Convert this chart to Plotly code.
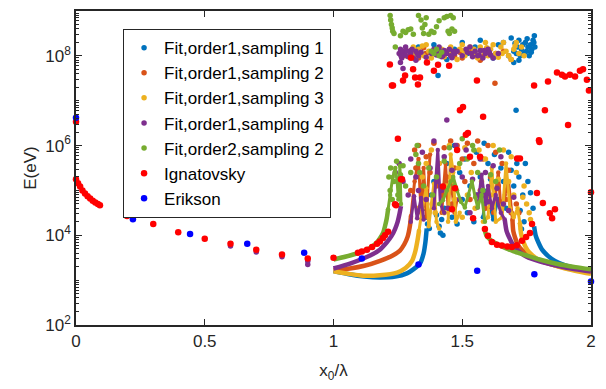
import plotly.graph_objects as go

# ---------------- colours / names ----------------
C_BLUE = "#0072BD"; C_ORANGE = "#D95319"; C_YELLOW = "#EDB120"
C_PURPLE = "#7E2F8E"; C_GREEN = "#77AC30"; C_RED = "#FF0000"; C_ERI = "#0000FF"
names = ["Fit,order1,sampling 1", "Fit,order1,sampling 2", "Fit,order1,sampling 3",
         "Fit,order1,sampling 4", "Fit,order2,sampling 2", "Ignatovsky", "Erikson"]

# ---------------- data (x0/lambda, log10 E[eV]) ----------------
# Erikson
eri_x = [0.0, 0.221, 0.443, 0.665, 0.886, 1.11, 1.33, 1.558, 1.78, 2.0]
eri_L = [6.62, 4.36, 4.03, 3.81, 3.61, 3.48, 3.35, 3.21, 3.13, 2.97]

# Ignatovsky
ign_x = [0.0, 0.0, 0.008, 0.016, 0.025, 0.035, 0.045, 0.055, 0.065, 0.075, 0.085, 0.093,
         0.198, 0.3, 0.397, 0.5, 0.6, 0.7, 0.8, 0.9, 1.0,
         1.095, 1.11, 1.13, 1.15, 1.169, 1.18, 1.192, 1.2, 1.212,
         1.239, 1.262, 1.243,
         1.219, 1.227, 1.231, 1.25, 1.266, 1.27, 1.278, 1.301, 1.309, 1.317, 1.328, 1.336,
         1.363, 1.39, 1.406, 1.425, 1.449, 1.48, 1.491, 1.503, 1.514, 1.522, 1.53,
         1.557, 1.569, 1.581, 1.46, 1.472, 1.542, 1.588,
         1.6, 1.615, 1.635, 1.654, 1.675, 1.693, 1.712, 1.732, 1.748, 1.763, 1.771,
         1.713, 1.724, 1.79, 1.813, 1.84, 1.86, 1.849, 1.8,
         1.779, 1.798, 1.821, 1.833, 1.868, 1.887, 1.899, 1.911, 1.918, 1.938,
         1.957, 1.969, 1.984, 1.992, 2.0]
ign_L = [6.53, 5.25, 5.16, 5.09, 5.0, 4.93, 4.87, 4.82, 4.77, 4.73, 4.7, 4.67,
         4.43, 4.25, 4.07, 3.92, 3.81, 3.68, 3.57, 3.48, 3.5,
         3.61, 3.64, 3.68, 3.74, 3.81, 3.86, 3.94, 4.0, 4.08,
         4.69, 5.25, 4.67,
         7.81, 7.34, 7.34, 6.15, 5.25, 7.45, 7.56, 7.96, 7.7, 7.52, 7.36, 7.52,
         7.85, 7.67, 7.8, 5.09, 7.78, 5.9, 6.79, 6.86, 6.24, 6.28, 5.75,
         7.45, 5.75, 6.64, 4.58, 5.05, 4.38, 4.14,
         3.99, 3.85, 3.79, 3.77, 3.75, 3.74, 3.78, 3.88, 3.96, 4.05, 4.25,
         5.71, 5.71, 4.94, 4.72, 4.49, 4.58, 4.38, 6.08,
         7.34, 6.12, 6.79, 7.43, 7.63, 7.58, 7.54, 6.46, 7.58, 7.54,
         7.67, 7.7, 7.47, 7.23, 4.96]

# ---- Fit, order1, sampling 1 (blue)
s1_arcL_x = [1.0, 1.06, 1.12, 1.18, 1.24, 1.285, 1.31, 1.336, 1.35, 1.357, 1.362]
s1_arcL_L = [3.2, 3.13, 3.08, 3.06, 3.08, 3.15, 3.24, 3.37, 3.6, 3.85, 4.15]
s1_arcR_x = [1.779, 1.785, 1.795, 1.81, 1.835, 1.86, 1.9, 1.94, 2.0]
s1_arcR_L = [4.2, 4.0, 3.85, 3.68, 3.53, 3.43, 3.33, 3.27, 3.2]
s1_strk_x = [1.58, 1.595, 1.61, 1.62, 1.635]
s1_strk_L = [4.4, 5.0, 4.6, 4.35, 4.7]
s1_dot_x = [1.355, 1.36, 1.365, 1.37, 1.372, 1.38, 1.39, 1.40, 1.41, 1.415, 1.42, 1.425, 1.43,
            1.44, 1.45, 1.46, 1.47, 1.48, 1.49, 1.50, 1.51, 1.52, 1.53, 1.545, 1.555, 1.56,
            1.57, 1.585, 1.60, 1.61, 1.625, 1.64, 1.65, 1.66, 1.67, 1.68, 1.69, 1.70, 1.712,
            1.72, 1.725, 1.735, 1.745, 1.755, 1.765, 1.775, 1.73, 1.74, 1.709]
s1_dot_L = [4.6, 4.4, 4.25, 4.5, 4.15, 4.9, 5.2, 4.45, 4.2, 4.05, 4.35, 4.0, 4.6,
            5.6, 5.0, 4.4, 6.0, 4.25, 5.4, 4.8, 5.7, 4.5, 5.1, 4.3, 5.85, 4.9,
            5.3, 6.05, 5.6, 5.25, 5.8, 4.8, 5.5, 5.2, 4.6, 5.85, 5.45, 5.1, 5.6,
            5.3, 4.55, 4.9, 5.6, 5.2, 4.95, 4.6, 4.14, 4.3, 6.79]
s1_hi_x = [1.33, 1.36, 1.39, 1.41, 1.44, 1.47, 1.50, 1.52, 1.55, 1.57, 1.60, 1.62, 1.64,
           1.66, 1.68, 1.69, 1.70, 1.71, 1.72, 1.725, 1.73, 1.74, 1.745, 1.75, 1.755,
           1.76, 1.765, 1.77, 1.775, 1.78, 1.782, 1.70, 1.72, 1.406,
           1.735, 1.752, 1.768, 1.778, 1.715, 1.705]
s1_hi_L = [8.2, 8.05, 8.25, 8.1, 7.92, 8.15, 8.3, 8.05, 8.2, 8.35, 8.1, 7.95, 8.25,
           8.3, 8.0, 8.4, 8.1, 8.05, 8.35, 8.0, 8.15, 8.05, 8.3, 8.1, 8.2,
           8.0, 8.25, 8.15, 8.35, 8.45, 8.2, 7.85, 7.9, 7.56,
           8.25, 8.38, 8.08, 8.3, 8.2, 8.28]

# ---- Fit, order1, sampling 2 (orange)
s2_arcL_x = [1.0, 1.064, 1.12, 1.181, 1.23, 1.258, 1.275, 1.288, 1.297, 1.301]
s2_arcL_L = [3.22, 3.26, 3.32, 3.43, 3.55, 3.66, 3.8, 3.97, 4.22, 4.43]
s2_arcR_x = [1.695, 1.698, 1.705, 1.715, 1.73, 1.76, 1.8, 1.86, 1.93, 2.0]
s2_arcR_L = [4.35, 4.1, 3.95, 3.8, 3.68, 3.55, 3.44, 3.33, 3.24, 3.17]
s2_strk_x = [1.301, 1.315, 1.33, 1.34, 1.35, 1.36, 1.375]
s2_strk_L = [4.43, 5.2, 5.7, 4.5, 5.5, 4.4, 5.8]
s2_strk2_x = [1.42, 1.435, 1.445, 1.455, 1.47, 1.48]
s2_strk2_L = [4.5, 5.6, 4.6, 5.3, 4.5, 4.8]
s2_strk3_x = [1.62, 1.64, 1.65, 1.665, 1.68, 1.695]
s2_strk3_L = [4.5, 5.4, 4.6, 4.9, 5.2, 4.35]
s2_dot_x = [1.30, 1.315, 1.32, 1.33, 1.345, 1.36, 1.375, 1.39, 1.40, 1.41, 1.42, 1.43, 1.44,
            1.455, 1.46, 1.47, 1.48, 1.50, 1.51, 1.52, 1.53, 1.545, 1.56, 1.57, 1.58, 1.59,
            1.60, 1.61, 1.63, 1.64, 1.655, 1.67, 1.68, 1.69, 1.71, 1.72]
s2_dot_L = [5.0, 5.9, 5.5, 6.0, 5.1, 5.75, 5.4, 6.05, 5.1, 5.6, 4.9, 5.95, 5.3,
            6.1, 4.7, 5.5, 6.0, 5.7, 5.2, 6.05, 4.8, 5.6, 6.1, 5.0, 5.7, 4.6,
            6.0, 5.3, 5.85, 5.1, 5.6, 4.8, 5.45, 4.5, 4.7, 4.5]
s2_hi_x = [1.28, 1.30, 1.33, 1.36, 1.40, 1.43, 1.45, 1.47, 1.50, 1.53, 1.55, 1.58, 1.60,
           1.63, 1.66, 1.69, 1.627, 1.35, 1.49, 1.57]
s2_hi_L = [8.0, 8.12, 7.95, 8.05, 8.1, 7.98, 8.15, 8.0, 7.95, 8.1, 8.02, 7.98, 8.15,
           8.05, 8.1, 7.92, 7.39, 8.18, 8.08, 7.9]

# ---- Fit, order1, sampling 3 (yellow)
s3_arcL_x = [1.0, 1.06, 1.115, 1.18, 1.247, 1.28, 1.305, 1.318, 1.326, 1.332]
s3_arcL_L = [3.2, 3.14, 3.1, 3.11, 3.17, 3.27, 3.43, 3.65, 3.88, 4.1]
s3_arcR_x = [1.724, 1.728, 1.735, 1.745, 1.76, 1.79, 1.833, 1.9, 2.0]
s3_arcR_L = [4.27, 4.05, 3.9, 3.75, 3.62, 3.48, 3.38, 3.26, 3.14]
s3_strk_x = [1.332, 1.345, 1.36, 1.37, 1.38, 1.39, 1.40, 1.41]
s3_strk_L = [4.1, 4.6, 5.05, 4.2, 4.7, 5.15, 4.3, 4.15]
s3_strk2_x = [1.445, 1.455, 1.465, 1.475, 1.49]
s3_strk2_L = [4.3, 5.8, 5.4, 4.3, 4.5]
s3_strk3_x = [1.58, 1.60, 1.615, 1.63, 1.655, 1.67, 1.685, 1.70, 1.715, 1.724]
s3_strk3_L = [4.3, 4.4, 5.5, 4.3, 4.4, 5.6, 4.6, 4.4, 4.6, 4.27]
s3_dot_x = [1.33, 1.345, 1.36, 1.38, 1.395, 1.41, 1.43, 1.44, 1.45, 1.47, 1.485, 1.50,
            1.51, 1.52, 1.535, 1.55, 1.565, 1.575, 1.59, 1.61, 1.62, 1.64, 1.65, 1.66,
            1.68, 1.69, 1.70, 1.71, 1.735, 1.74, 1.75, 1.76, 1.765]
s3_dot_L = [4.6, 5.3, 5.6, 5.9, 4.5, 5.6, 4.5, 5.1, 6.0, 4.8, 5.5, 4.4,
            5.95, 4.9, 5.4, 4.6, 5.9, 5.2, 5.7, 4.9, 6.0, 5.25, 4.65, 5.9,
            5.2, 5.75, 4.9, 5.4, 4.85, 5.1, 4.7, 4.5, 4.35]
s3_hi_x = [1.30, 1.31, 1.32, 1.33, 1.34, 1.35, 1.36, 1.37, 1.38, 1.40, 1.42, 1.43, 1.44,
           1.46, 1.48, 1.49, 1.50, 1.51, 1.52, 1.53, 1.55, 1.56, 1.57, 1.58, 1.59, 1.60,
           1.61, 1.62, 1.63, 1.64, 1.65, 1.66, 1.67, 1.68, 1.69, 1.70, 1.71, 1.72, 1.73, 1.74,
           1.315, 1.345, 1.455, 1.505, 1.545, 1.595, 1.655, 1.705]
s3_hi_L = [8.1, 8.2, 7.98, 8.15, 8.05, 8.0, 8.25, 8.1, 7.95, 8.05, 8.15, 7.98, 8.1,
           8.05, 7.92, 8.15, 8.25, 8.0, 8.1, 8.2, 8.05, 7.95, 8.2, 8.1, 8.3, 8.0,
           8.15, 8.25, 8.05, 7.97, 8.2, 8.3, 8.1, 8.0, 7.92, 8.15, 8.3, 8.05, 8.2, 8.0,
           8.05, 8.22, 8.2, 8.12, 8.15, 8.18, 8.05, 8.22]

# ---- Fit, order1, sampling 4 (purple)
s4_arcL_x = [1.0, 1.064, 1.142, 1.18, 1.208, 1.225, 1.239, 1.249, 1.256, 1.262]
s4_arcL_L = [3.26, 3.37, 3.55, 3.68, 3.85, 3.98, 4.14, 4.3, 4.47, 4.65]
s4_arcR_x = [1.665, 1.672, 1.685, 1.70, 1.72, 1.75, 1.8, 1.87, 1.94, 2.0]
s4_arcR_L = [4.35, 4.1, 3.92, 3.76, 3.64, 3.52, 3.42, 3.32, 3.24, 3.19]
s4_strk_x = [1.30, 1.313, 1.325, 1.34, 1.35]
s4_strk_L = [4.3, 4.87, 4.38, 4.83, 4.35]
s4_strk2_x = [1.39, 1.405, 1.415, 1.43]
s4_strk2_L = [4.6, 5.9, 4.7, 4.5]
s4_strk3_x = [1.56, 1.575, 1.59, 1.60, 1.615, 1.63, 1.65, 1.665]
s4_strk3_L = [4.62, 5.35, 4.7, 5.1, 4.6, 4.9, 4.5, 4.35]
s4_dot_x = [0.6, 0.7, 0.8, 0.9, 0.9,
            1.24, 1.255, 1.27, 1.29, 1.30, 1.32, 1.33, 1.345, 1.36, 1.375, 1.39, 1.40,
            1.42, 1.43, 1.445, 1.46, 1.475, 1.49, 1.50, 1.515, 1.53, 1.54, 1.555, 1.57,
            1.59, 1.60, 1.62, 1.635, 1.65, 1.66, 1.68, 1.70]
s4_dot_L = [3.76, 3.63, 3.52, 3.42, 3.35,
            5.4, 5.6, 5.2, 4.9, 5.7, 5.3, 5.0, 5.85, 4.8, 5.5, 6.1, 5.2,
            5.0, 5.75, 4.6, 5.45, 6.0, 4.8, 5.3, 5.9, 4.5, 5.25, 4.9, 5.7,
            5.4, 4.75, 5.55, 5.05, 5.75, 4.7, 4.55, 4.85]
s4_hi_x = [1.255, 1.26, 1.265, 1.27, 1.275, 1.28, 1.29, 1.295, 1.30, 1.31, 1.32, 1.33, 1.34,
           1.36, 1.38, 1.39, 1.40, 1.41, 1.415, 1.42, 1.43, 1.44, 1.45, 1.46, 1.47, 1.48,
           1.50, 1.52, 1.53, 1.54, 1.55, 1.56, 1.57, 1.58, 1.59, 1.60, 1.61, 1.62, 1.64,
           1.26, 1.27, 1.44, 1.32,
           1.262, 1.285, 1.305, 1.325, 1.405, 1.425, 1.435, 1.455, 1.465, 1.515, 1.535,
           1.565, 1.585, 1.605]
s4_hi_L = [8.05, 8.15, 7.95, 8.1, 8.02, 8.2, 7.98, 8.1, 8.05, 7.95, 8.1, 8.0, 8.08,
           7.97, 8.05, 8.15, 8.02, 8.2, 8.1, 7.98, 8.12, 8.05, 8.15, 7.96, 8.05, 8.1,
           8.0, 8.08, 8.2, 7.98, 8.1, 8.0, 8.12, 7.95, 8.05, 8.15, 8.02, 7.95, 8.05,
           7.85, 7.72, 6.57, 7.9,
           8.0, 8.1, 8.15, 8.05, 8.08, 8.0, 8.05, 8.0, 8.1, 8.15, 8.05, 8.02, 8.12, 8.08]

# ---- Fit, order2, sampling 2 (green)
s5_arcL_x = [1.0, 1.064, 1.11, 1.142, 1.165, 1.181, 1.193, 1.2, 1.207, 1.212]
s5_arcL_L = [3.46, 3.55, 3.63, 3.72, 3.82, 3.94, 4.06, 4.2, 4.38, 4.58]
s5_arcR_x = [1.588, 1.595, 1.605, 1.615, 1.64, 1.666, 1.7, 1.744, 1.8, 1.87, 1.94, 2.0]
s5_arcR_L = [4.1, 3.98, 3.92, 3.87, 3.79, 3.72, 3.64, 3.56, 3.46, 3.36, 3.29, 3.24]
s5_strk_x = [1.212, 1.22, 1.23, 1.24, 1.247, 1.252, 1.258, 1.262]
s5_strk_L = [4.58, 4.9, 5.3, 5.5, 5.2, 4.8, 5.55, 4.7]
s5_strk2_x = [1.41, 1.425, 1.44, 1.455, 1.465, 1.48, 1.495, 1.51, 1.525, 1.538, 1.55,
              1.56, 1.575, 1.588]
s5_strk2_L = [4.7, 4.78, 5.0, 5.2, 5.3, 5.0, 4.75, 4.62, 4.9, 5.2, 4.85, 4.62, 4.9, 4.3]
s5_dot_x = [1.215, 1.22, 1.222, 1.228, 1.235, 1.245, 1.25, 1.26, 1.27, 1.28, 1.30, 1.32,
            1.325, 1.33, 1.335, 1.35, 1.37, 1.385, 1.40, 1.43, 1.45, 1.47, 1.49, 1.50,
            1.52, 1.54, 1.545, 1.56, 1.58, 1.61, 1.63, 1.645]
s5_dot_L = [5.3, 5.0, 5.5, 4.8, 5.2, 5.65, 4.9, 5.35, 5.55, 5.1, 5.4, 5.8,
            6.0, 5.6, 5.4, 5.1, 5.5, 4.9, 5.3, 5.65, 5.95, 5.1, 5.6, 6.15,
            5.7, 6.0, 5.9, 5.4, 5.0, 5.35, 5.2, 5.9]
s5_hi_x = [1.22, 1.222, 1.225, 1.228, 1.23, 1.235, 1.24, 1.26, 1.27, 1.28, 1.29, 1.30,
           1.31, 1.33, 1.34, 1.345, 1.35, 1.355, 1.36, 1.37, 1.38, 1.39, 1.40, 1.41,
           1.43, 1.44, 1.445, 1.45, 1.455, 1.46, 1.465, 1.38, 1.39, 1.40, 1.41, 1.42, 1.47]
s5_hi_L = [8.9, 8.8, 8.7, 8.62, 8.55, 8.5, 8.2, 8.45, 8.55, 8.52, 8.58, 8.6,
           8.48, 8.9, 8.8, 8.62, 8.5, 8.7, 8.85, 8.48, 8.55, 8.52, 8.65, 8.78,
           8.85, 8.88, 8.55, 8.5, 8.9, 8.6, 8.85, 8.1, 8.05, 8.15, 8.0, 8.08, 8.55]

# ---------------- axis ticks ----------------
y_tick_vals = [1e2, 1e4, 1e6, 1e8]
y_tick_text = ["10<sup>2</sup>", "10<sup>4</sup>", "10<sup>6</sup>", "10<sup>8</sup>"]
y_minor_vals = [m * 10 ** d for d in range(2, 9) for m in range(2, 11)]
x_tick_vals = [0, 0.5, 1, 1.5, 2]
x_tick_text = ["0", "0.5", "1", "1.5", "2"]


def E(L):
    return [10 ** v for v in L]


fig = go.Figure()

series = [
    (C_BLUE, names[0], [(s1_arcL_x, s1_arcL_L), (s1_arcR_x, s1_arcR_L)],
     [(s1_strk_x, s1_strk_L)], (s1_dot_x + s1_hi_x, s1_dot_L + s1_hi_L)),
    (C_ORANGE, names[1], [(s2_arcL_x, s2_arcL_L), (s2_arcR_x, s2_arcR_L)],
     [(s2_strk_x, s2_strk_L), (s2_strk2_x, s2_strk2_L), (s2_strk3_x, s2_strk3_L)],
     (s2_dot_x + s2_hi_x, s2_dot_L + s2_hi_L)),
    (C_YELLOW, names[2], [(s3_arcL_x, s3_arcL_L), (s3_arcR_x, s3_arcR_L)],
     [(s3_strk_x, s3_strk_L), (s3_strk2_x, s3_strk2_L), (s3_strk3_x, s3_strk3_L)],
     (s3_dot_x + s3_hi_x, s3_dot_L + s3_hi_L)),
    (C_PURPLE, names[3], [(s4_arcL_x, s4_arcL_L), (s4_arcR_x, s4_arcR_L)],
     [(s4_strk_x, s4_strk_L), (s4_strk2_x, s4_strk2_L), (s4_strk3_x, s4_strk3_L)],
     (s4_dot_x + s4_hi_x, s4_dot_L + s4_hi_L)),
    (C_GREEN, names[4], [(s5_arcL_x, s5_arcL_L), (s5_arcR_x, s5_arcR_L)],
     [(s5_strk_x, s5_strk_L), (s5_strk2_x, s5_strk2_L)],
     (s5_dot_x + s5_hi_x, s5_dot_L + s5_hi_L)),
]

for i, (col, nm, arcs, strokes, dots) in enumerate(series):
    for ax_, aL in arcs:
        fig.add_trace(go.Scatter(x=ax_, y=E(aL), mode="lines",
                                 line=dict(color=col, width=4.5, shape="spline", smoothing=0.6),
                                 showlegend=False, hoverinfo="skip"))
    for sx, sL in strokes:
        fig.add_trace(go.Scatter(x=sx, y=E(sL), mode="lines+markers", line=dict(color=col, width=3),
                                 marker=dict(color=col, size=4.5), showlegend=False, hoverinfo="skip"))
    fig.add_trace(go.Scatter(x=dots[0], y=E(dots[1]), mode="markers", name=nm, legendrank=i + 1,
                             marker=dict(color=col, size=5.5), cliponaxis=False))

fig.add_trace(go.Scatter(x=ign_x, y=E(ign_L), mode="markers", name=names[5], legendrank=6,
                         marker=dict(color=C_RED, size=6.5), cliponaxis=False))
fig.add_trace(go.Scatter(x=eri_x, y=E(eri_L), mode="markers", name=names[6], legendrank=7,
                         marker=dict(color=C_ERI, size=6.5), cliponaxis=False))

FONT = "Liberation Sans, Arial, sans-serif"
AX = "#262626"
fig.update_layout(
    width=606, height=389,
    margin=dict(l=76, r=15, t=9, b=64),
    paper_bgcolor="white", plot_bgcolor="white",
    font=dict(family=FONT, size=17, color=AX),
    showlegend=True,
    legend=dict(x=0.091, y=0.943, xanchor="left", yanchor="top",
                bgcolor="white", bordercolor=AX, borderwidth=1.2,
                font=dict(family=FONT, size=17, color="#000000"),
                tracegroupgap=0, itemwidth=30),
    xaxis=dict(range=[0, 2], tickvals=x_tick_vals, ticktext=x_tick_text, ticks="inside", ticklen=6,
               tickwidth=1.2, tickcolor=AX, showline=True, linecolor=AX, linewidth=1.6, mirror="ticks",
               showgrid=False, zeroline=False,
               title=dict(text="x<sub>0</sub>/λ", font=dict(size=17, color=AX), standoff=14)),
    yaxis=dict(type="log", range=[2, 9], tickvals=y_tick_vals, ticktext=y_tick_text, ticks="inside",
               ticklen=6, tickwidth=1.2, tickcolor=AX, showline=True, linecolor=AX, linewidth=1.6,
               mirror="ticks", showgrid=False, zeroline=False,
               minor=dict(tickvals=y_minor_vals, ticks="inside", ticklen=3, tickcolor=AX, showgrid=False),
               title=dict(text="E(eV)", font=dict(size=17, color=AX), standoff=4)),
)

fig.write_html("out.html")
